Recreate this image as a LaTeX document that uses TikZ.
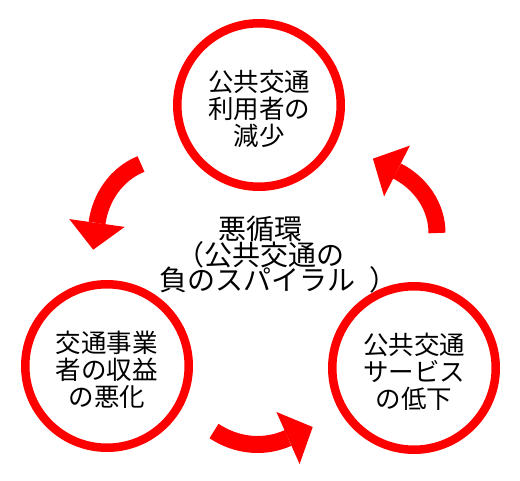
\documentclass[tikz,border=0pt]{standalone}
\usepackage{fontspec}
\newfontfamily\jp{Noto Sans CJK JP}
\definecolor{cred}{RGB}{255,0,0}
\newcommand\ringfnt{\jp\fontsize{25.5}{27}\selectfont\lineskiplimit=-20pt\relax}
\newcommand\midfnt{\jp\fontsize{28}{25.5}\selectfont\lineskiplimit=-20pt\relax}
\tikzset{
  ring/.style={circle, draw=cred, line width=8.5pt, fill=white, minimum size=163.5pt, inner sep=0pt},
  ringtext/.style={align=center, font=\ringfnt, text=black, yshift=-4pt},
  midtext/.style={align=center, font=\midfnt, text=black},
  arrowbody/.style={draw=cred, line width=17pt, line cap=butt},
  arrowhead/.style={fill=cred, draw=none}
}
\begin{document}
\begin{tikzpicture}[x=1pt, y=-1pt]
\useasboundingbox (0,0) rectangle (520,480);
\fill[white] (0,0) rectangle (520,480);
% circles
\node[ring] (top) at (259,105) {};
\node[ring] (left) at (107,366) {};
\node[ring] (right) at (414,368) {};
\node[ringtext] (toptext) at (top.center) {公共交通\\利用者の\\減少};
\node[ringtext] (lefttext) at (left.center) {交通事業\\者の収益\\の悪化};
\node[ringtext] (righttext) at (right.center) {公共交通\\サービス\\の低下};
\node[midtext] (mid) at (260.5,255) {悪循環\\（公共交通の\hspace*{28pt}\\\hspace*{36pt}負のスパイラル\kern15pt）};
% left arrow
\coordinate (lt) at (141,164);
\coordinate (lb) at (97,223);
\coordinate (lh1) at (124.7,226.9);
\coordinate (lh2) at (69.3,219.1);
\coordinate (ltip) at (93.2,249.7);
\draw[arrowbody] (lt) .. controls (116.6,173.9) and (100.7,197.0) .. (lb);
\fill[arrowhead] (lh1) -- (ltip) -- (lh2) -- cycle;
% bottom arrow
\coordinate (bt) at (214,431);
\coordinate (bb) at (288,438);
\coordinate (bh1) at (299.6,464.0);
\coordinate (bh2) at (276.4,412.0);
\coordinate (btip) at (312.7,427.0);
\draw[arrowbody] (bt) .. controls (236.8,446.2) and (264.2,448.6) .. (bb);
\fill[arrowhead] (bh1) -- (btip) -- (bh2) -- cycle;
% right arrow
\coordinate (rt) at (437,233);
\coordinate (rb) at (397,171);
\coordinate (rh1) at (409.9,145.6);
\coordinate (rh2) at (384.1,196.4);
\coordinate (rtip) at (372.9,158.7);
\draw[arrowbody] (rt) .. controls (437,206.5) and (420.6,183.0) .. (rb);
\fill[arrowhead] (rh1) -- (rtip) -- (rh2) -- cycle;
\end{tikzpicture}
\end{document}
